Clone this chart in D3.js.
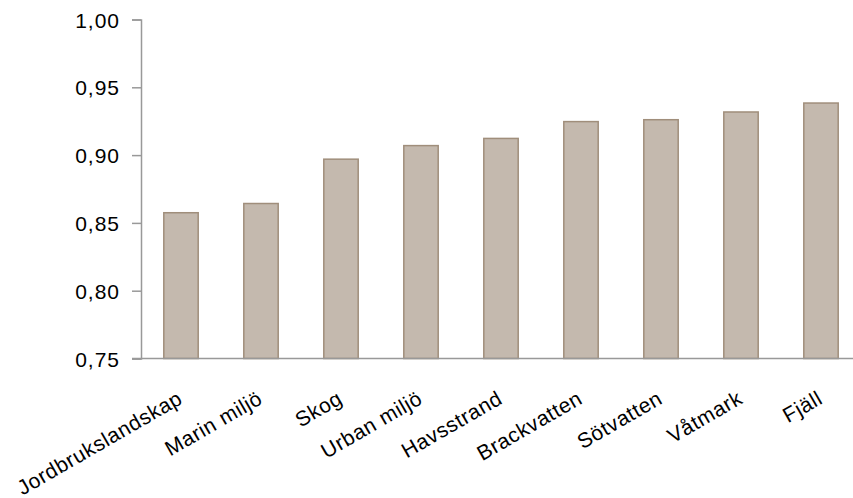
<!DOCTYPE html>
<html>
<head>
<meta charset="utf-8">
<script src="https://cdn.jsdelivr.net/npm/d3@7"></script>
<style>
  html, body { margin: 0; padding: 0; background: #fff; }
  svg { display: block; font-family: "Liberation Sans", Arial, Helvetica, sans-serif; }
</style>
</head>
<body>
<svg id="chart" width="853" height="498"></svg>
<script>
// Index per landscape type, sorted ascending
const categories = ["Jordbrukslandskap", "Marin miljö", "Skog", "Urban miljö", "Havsstrand",
                    "Brackvatten", "Sötvatten", "Våtmark", "Fjäll"];
const values = [0.8575, 0.8643, 0.897, 0.907, 0.9123, 0.9247, 0.9261, 0.9318, 0.9384];
const yTicks = [0.75, 0.80, 0.85, 0.90, 0.95, 1.00];

const svg = d3.select("#chart");
const margin = { left: 141, top: 19.5, bottom: 140, right: -8 };
const W = 853, H = 498;

const x = d3.scaleBand()
  .domain(categories)
  .range([margin.left, W - margin.right])
  .paddingInner(0.57)
  .paddingOuter(0.285);

const y = d3.scaleLinear()
  .domain([0.75, 1.00])
  .range([H - margin.bottom + 0.5, margin.top]);

const fmt = v => d3.format(".2f")(v).replace(".", ",");

// Bars
svg.append("g")
  .selectAll("rect")
  .data(values)
  .join("rect")
  .attr("x", (d, i) => x(categories[i]))
  .attr("y", d => y(d))
  .attr("width", x.bandwidth())
  .attr("height", d => y(0.75) - y(d))
  .attr("fill", "#c4b9ae")
  .attr("stroke", "#a08e7b")
  .attr("stroke-width", 1.5);

// Y axis
const yAxis = svg.append("g")
  .attr("transform", `translate(${margin.left},0)`)
  .call(d3.axisLeft(y).tickValues(yTicks).tickFormat(fmt).tickSize(9).tickPadding(12));
yAxis.select(".domain").attr("stroke", "#999").attr("stroke-width", 1.5);
yAxis.selectAll(".tick line").attr("stroke", "#999").attr("stroke-width", 1.5);
yAxis.selectAll(".tick text")
  .attr("fill", "#000")
  .attr("dy", "0.36em")
  .style("font-size", "21px")
  .style("letter-spacing", "1px")
  .style("font-family", "'Liberation Sans', Arial, sans-serif");

// X axis
const xAxis = svg.append("g")
  .attr("transform", `translate(0,${y(0.75)})`)
  .call(d3.axisBottom(x).tickSize(0).tickPadding(0));
xAxis.select(".domain").attr("stroke", "#999").attr("stroke-width", 1.5)
  .attr("d", `M${margin.left - 9},0H${W + 10}`);
xAxis.selectAll(".tick text")
  .attr("fill", "#000")
  .style("font-size", "21px")
  .style("letter-spacing", "0.6px")
  .style("font-family", "'Liberation Sans', Arial, sans-serif")
  .attr("text-anchor", "end")
  .attr("dy", null)
  .attr("y", 0)
  .attr("transform", "translate(3,44) rotate(-30)");
</script>
</body>
</html>
